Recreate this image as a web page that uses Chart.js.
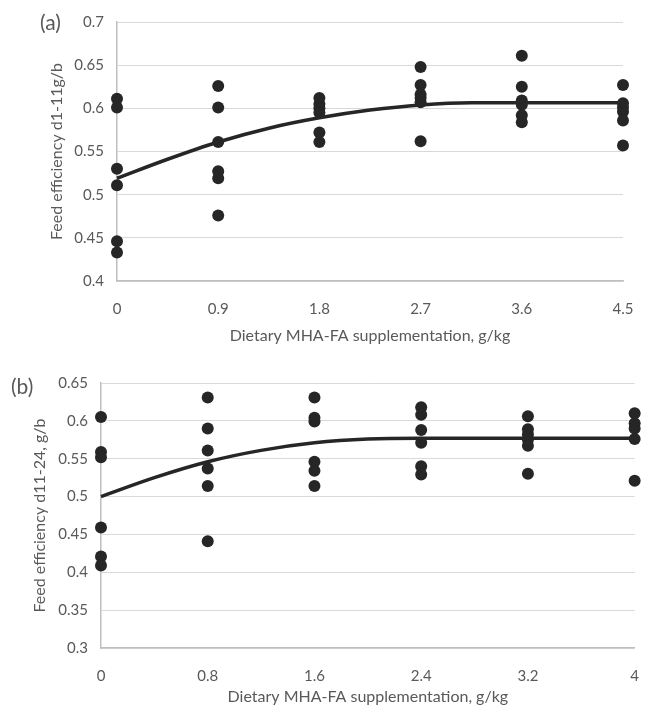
<!DOCTYPE html>
<html lang="en">
<head>
  <meta charset="UTF-8" />
  <title>Feed efficiency vs MHA-FA</title>
  <script src="https://cdn.jsdelivr.net/npm/chart.js"></script>
  <style>
    body {
      margin: 0;
      background: #fff;
      font-family: Lato, sans-serif;
    }
    .wrap {
      position: relative;
      width: 650px;
      height: 706px;
    }
    canvas {
      position: absolute;
      left: 0;
    }
    #chartA { top: 0; }
    #chartB { top: 350px; }
    .tag {
      position: absolute;
      font-size: 21px;
      color: #595959;
      line-height: 1;
    }
  </style>
</head>
<body>
  <div class="wrap">
    <canvas id="chartA" width="650" height="350"></canvas>
    <canvas id="chartB" width="650" height="356"></canvas>
    <div class="tag" style="left:40px; top:11px;">(a)</div>
    <div class="tag" style="left:11px; top:375px;">(b)</div>
  </div>

  <script>
    // (a) d1-11
    const dosesA = [0, 0.9, 1.8, 2.7, 3.6, 4.5];
    const feA = [
      [0.611, 0.601, 0.530, 0.511, 0.446, 0.433],
      [0.626, 0.601, 0.561, 0.527, 0.519, 0.476],
      [0.612, 0.605, 0.600, 0.595, 0.572, 0.561],
      [0.648, 0.627, 0.616, 0.612, 0.607, 0.562],
      [0.661, 0.625, 0.609, 0.604, 0.592, 0.584],
      [0.627, 0.606, 0.601, 0.596, 0.586, 0.557]
    ];
    const fitXA = [0, 0.45, 0.9, 1.35, 1.8, 2.25, 2.7, 3.15, 3.6, 4.05, 4.5];
    const fitYA = [0.519, 0.541, 0.561, 0.577, 0.589, 0.598, 0.604, 0.6065, 0.6065, 0.6065, 0.6065];
    const yTicksA = [0.4, 0.45, 0.5, 0.55, 0.6, 0.65, 0.7];

    // (b) d11-24
    const dosesB = [0, 0.8, 1.6, 2.4, 3.2, 4];
    const feB = [
      [0.605, 0.559, 0.552, 0.459, 0.421, 0.409],
      [0.631, 0.590, 0.561, 0.537, 0.514, 0.441],
      [0.631, 0.604, 0.599, 0.546, 0.534, 0.514],
      [0.618, 0.608, 0.588, 0.571, 0.540, 0.529],
      [0.606, 0.589, 0.582, 0.575, 0.567, 0.530],
      [0.610, 0.597, 0.590, 0.576, 0.521]
    ];
    const fitXB = [0, 0.4, 0.8, 1.2, 1.6, 2.0, 2.4, 3.2, 4];
    const fitYB = [0.500, 0.525, 0.546, 0.561, 0.571, 0.576, 0.577, 0.577, 0.577];
    const yTicksB = [0.3, 0.35, 0.4, 0.45, 0.5, 0.55, 0.6, 0.65];

    const xTitle = 'Dietary MHA-FA supplementation, g/kg';
    const ink = '#262626';
    const grey = '#595959';

    function points(doses, groups) {
      const out = [];
      doses.forEach((d, i) => groups[i].forEach(v => out.push({ x: d, y: v })));
      return out;
    }

    function makeChart(id, o) {
      const fmt = v => String(+v.toFixed(2));
      return new Chart(document.getElementById(id), {
        type: 'scatter',
        data: {
          datasets: [
            {
              data: o.fitX.map((x, i) => ({ x: x, y: o.fitY[i] })),
              showLine: true,
              borderColor: ink,
              borderWidth: 3.5,
              pointRadius: 0,
              cubicInterpolationMode: 'monotone',
              clip: false
            },
            {
              data: points(o.doses, o.groups),
              backgroundColor: ink,
              borderColor: ink,
              borderWidth: 0,
              pointRadius: 6,
              clip: false
            }
          ]
        },
        options: {
          responsive: false,
          animation: false,
          devicePixelRatio: 1,
          layout: { padding: o.pad },
          plugins: { legend: { display: false }, tooltip: { enabled: false } },
          scales: {
            x: {
              type: 'linear',
              min: o.doses[0],
              max: o.doses[o.doses.length - 1],
              afterBuildTicks: s => { s.ticks = o.doses.map(v => ({ value: v })); },
              afterFit: s => { s.height = o.xH; },
              grid: { display: false },
              border: { display: true, color: '#bfbfbf', width: 1.5 },
              ticks: {
                color: grey,
                font: { family: 'Lato', size: 15 },
                padding: 11,
                maxRotation: 0,
                callback: fmt
              },
              title: {
                display: true,
                text: xTitle,
                color: grey,
                font: { family: 'Lato', size: 16 },
                padding: { top: 0, bottom: o.xtPad }
              }
            },
            y: {
              min: o.yTicks[0],
              max: o.yTicks[o.yTicks.length - 1],
              afterBuildTicks: s => { s.ticks = o.yTicks.map(v => ({ value: v })); },
              afterFit: s => { s.width = o.yW; },
              grid: { color: '#d9d9d9', lineWidth: 1, drawTicks: false },
              border: { display: true, color: '#bfbfbf', width: 1.5 },
              ticks: {
                color: grey,
                font: { family: 'Lato', size: 15 },
                padding: 13,
                callback: fmt
              },
              title: {
                display: true,
                text: o.yTitle,
                color: grey,
                font: { family: 'Lato', size: 16 },
                padding: { top: o.ytPad, bottom: 0 }
              }
            }
          }
        }
      });
    }

    makeChart('chartA', {
      doses: dosesA, groups: feA, fitX: fitXA, fitY: fitYA, yTicks: yTicksA,
      yTitle: 'Feed efficiency d1-11g/b',
      pad: { left: 0, top: 17, right: 27, bottom: 0 },
      yW: 117, xH: 69, xtPad: 5, ytPad: 47
    });

    makeChart('chartB', {
      doses: dosesB, groups: feB, fitX: fitXB, fitY: fitYB, yTicks: yTicksB,
      yTitle: 'Feed efficiency d11-24, g/b',
      pad: { left: 0, top: 33, right: 4, bottom: 0 },
      yW: 101, xH: 58, xtPad: 0, ytPad: 30
    });
  </script>
</body>
</html>
